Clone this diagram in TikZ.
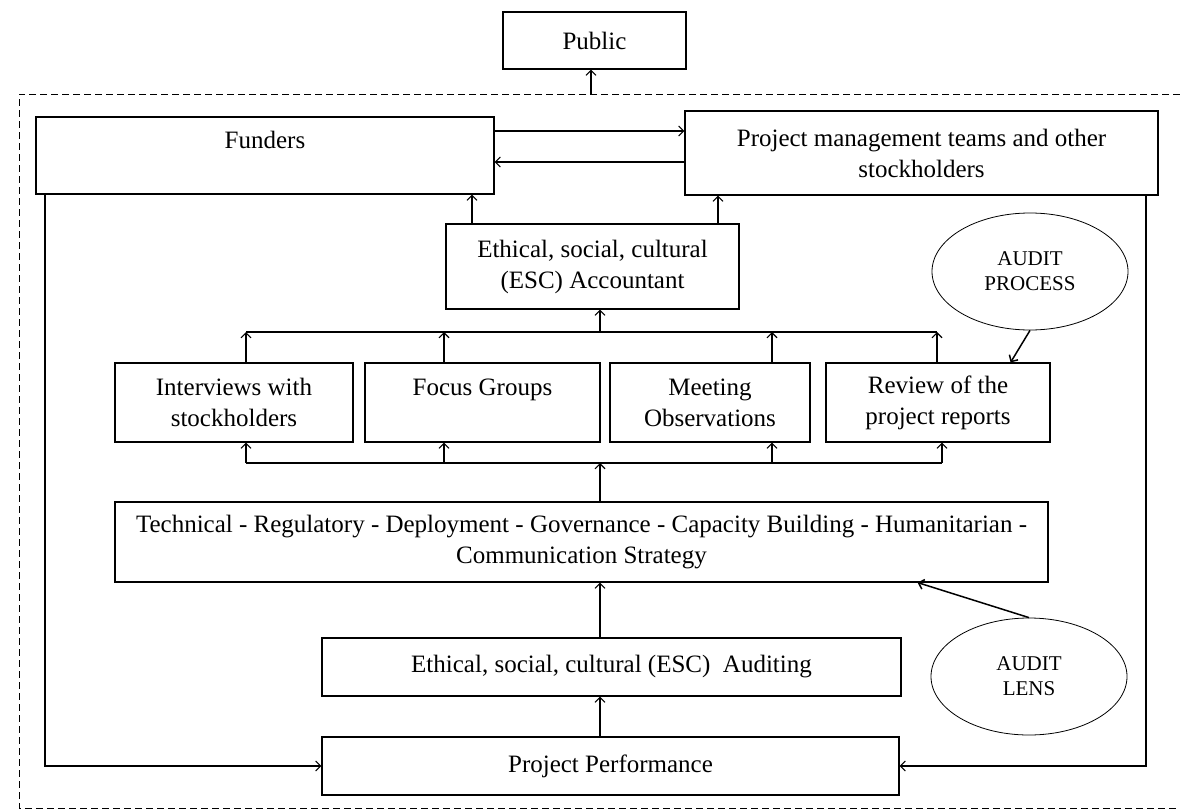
\documentclass[tikz,border=0pt]{standalone}
\usepackage{fontspec}
\setmainfont{Liberation Serif}
\usetikzlibrary{arrows.meta,positioning,calc,shapes}
\tikzset{% 
  audit box/.style={%
    draw,
    line width=1.1pt,
    inner sep=0pt,
    align=center,
    font=\fontsize{25}{31}\selectfont
  },
  audit oval/.style={%
    draw,
    ellipse,
    line width=0.8pt,
    inner sep=0pt,
    minimum width=196pt,
    minimum height=117pt,
    align=center,
    font=\fontsize{21}{25}\selectfont
  },
  flow directed/.style={%
    line width=1.1pt,
    >={Straight Barb[length=5pt,width=10pt]},
    ->
  }
}

\begin{document}
\begin{tikzpicture}[x=1pt,y=-1pt]
  \useasboundingbox (0,0) rectangle (1180,811);
  \node [audit box,minimum width=183pt,minimum height=57pt] (public) at (594.5,40.5) {Public};
  \node [audit box,minimum width=458pt,minimum height=77pt] (funders) at (265,155.5) {Funders\\\mbox{}};
  \node [audit box,minimum width=473pt,minimum height=84pt] (pm) at (921.5,153) {Project management teams and other\\stockholders};
  \node [audit box,minimum width=293pt,minimum height=85pt] (acct) at (592.5,266.5) {Ethical, social, cultural\\(ESC) Accountant};
  \node [audit box,minimum width=238pt,minimum height=79pt] (interviews) at (234,402.5) {Interviews with\\stockholders};
  \node [audit box,minimum width=235pt,minimum height=79pt] (focus) at (482.5,402.5) {Focus Groups\\\mbox{}};
  \node [audit box,minimum width=200pt,minimum height=79pt] (meeting) at (710,402.5) {Meeting\\Observations};
  \node [audit box,minimum width=224pt,minimum height=79pt] (review) at (938,402.5) {Review of the\\project reports};
  \node [audit box,minimum width=933pt,minimum height=80pt] (tech) at (581.5,542) {Technical - Regulatory - Deployment - Governance - Capacity Building - Humanitarian -\\Communication Strategy};
  \node [audit box,minimum width=579pt,minimum height=58pt] (auditing) at (611.5,667) {Ethical, social, cultural (ESC)~ Auditing};
  \node [audit box,minimum width=577pt,minimum height=58pt] (perf) at (610.5,766) {Project Performance};
  \node [audit oval] (process) at (1030,271.5) {AUDIT\\PROCESS};
  \node [audit oval] (lens) at (1029,676.5) {AUDIT\\LENS};

  \coordinate (frame) at (591,94);
  \coordinate (fa) at (472,0);
  \coordinate (pa) at (718,0);
  \coordinate (rl) at (45,0);
  \coordinate (rr) at (1146,0);
  \coordinate (ub1) at (246,332);
  \coordinate (ub2) at (444,332);
  \coordinate (ub) at (600,332);
  \coordinate (ub3) at (772,332);
  \coordinate (ub4) at (937,332);
  \coordinate (lb1) at (246,463);
  \coordinate (lb2) at (444,463);
  \coordinate (lb) at (600,463);
  \coordinate (lb3) at (772,463);
  \coordinate (lb4) at (942,463);

  \draw [dashed,dash pattern=on 7pt off 4pt,line width=1pt] (1180,94) -| (19,808) -- (1180,808);
  \draw [flow directed] (frame) -- (frame |- public.south);
  \draw [flow directed] ([yshift=24.5pt]funders.east) -- ([yshift=24.5pt]funders.east -| pm.west);
  \draw [flow directed] ([yshift=-6.5pt]funders.east -| pm.west) -- ([yshift=-6.5pt]funders.east);
  \draw [flow directed] (acct.north -| fa) -- (funders.south -| fa);
  \draw [flow directed] (acct.north -| pa) -- (pm.south -| pa);
  \draw [flow directed] (funders.south -| rl) |- (perf.west);
  \draw [flow directed] (pm.south -| rr) |- (perf.east);

  \draw [line width=1.1pt] (ub1) -- (ub4);
  \draw [flow directed] (ub) -- (ub |- acct.south);
  \draw [flow directed] (interviews.north -| ub1) -- (ub1);
  \draw [flow directed] (focus.north -| ub2) -- (ub2);
  \draw [flow directed] (meeting.north -| ub3) -- (ub3);
  \draw [flow directed] (review.north -| ub4) -- (ub4);

  \draw [line width=1.1pt] (lb1) -- (lb4);
  \draw [flow directed] (tech.north -| lb) -- (lb);
  \draw [flow directed] (lb1) -- (lb1 |- interviews.south);
  \draw [flow directed] (lb2) -- (lb2 |- focus.south);
  \draw [flow directed] (lb3) -- (lb3 |- meeting.south);
  \draw [flow directed] (lb4) -- (lb4 |- review.south);

  \draw [flow directed] (auditing.north -| lb) -- (tech.south -| lb);
  \draw [flow directed] (perf.north -| lb) -- (auditing.south -| lb);
  \draw [flow directed,line width=1.5pt] (process.south) -- ([xshift=-40pt]review.north east);
  \draw [flow directed,line width=1.5pt] (lens.north) -- ([xshift=-131pt]tech.south east);
\end{tikzpicture}
\end{document}
